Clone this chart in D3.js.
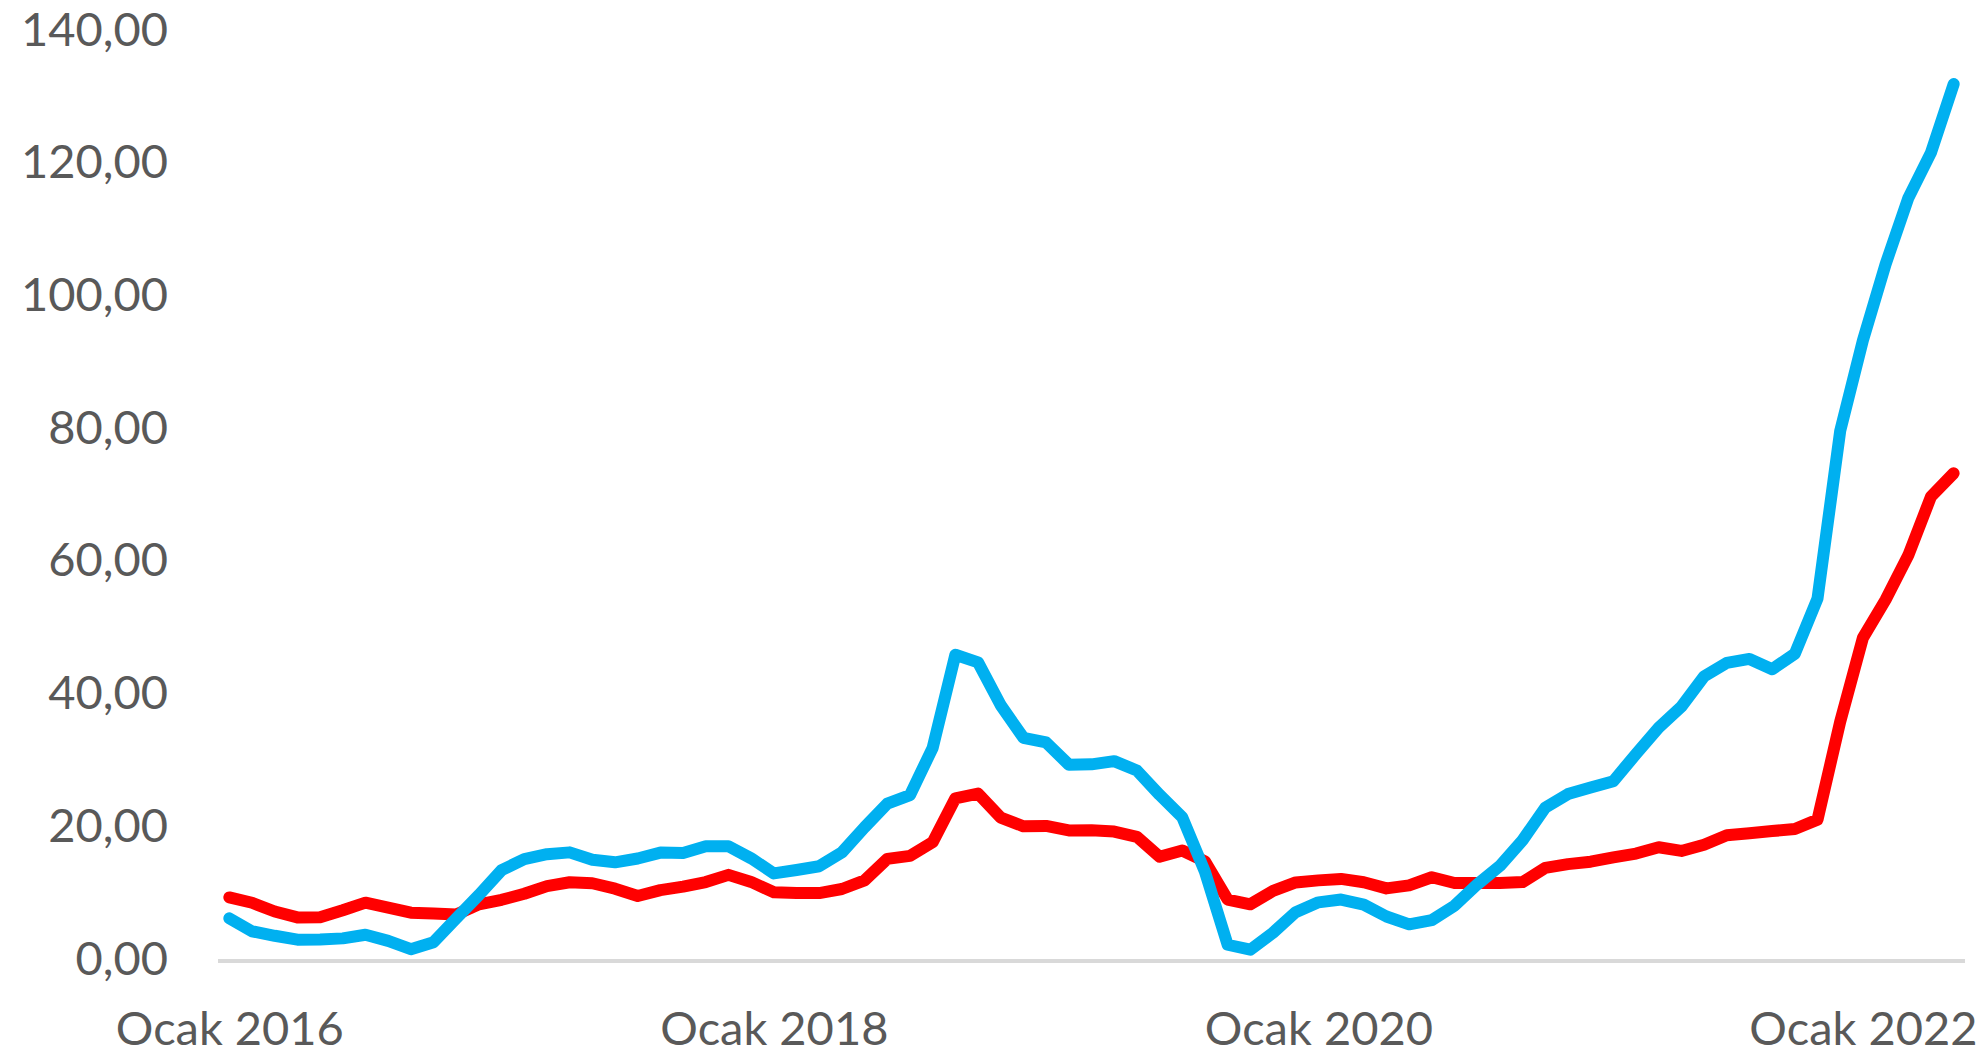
<!DOCTYPE html>
<html>
<head>
<meta charset="utf-8">
<script src="https://cdn.jsdelivr.net/npm/d3@7"></script>
<style>
  html, body { margin: 0; padding: 0; background: #fff; }
  #chart text { font-family: Lato, "Open Sans", sans-serif; fill: #595959; }
</style>
</head>
<body>
<div id="chart"></div>
<script>
// monthly categories: Ocak 2016 .. Mayıs 2022
var months = d3.timeMonth.range(new Date(2016, 0, 1), new Date(2022, 5, 1));

// red series (annual %, consumer prices)
var redValues = [
  9.58, 8.78, 7.46, 6.57, 6.58, 7.64, 8.79, 8.05, 7.28, 7.16, 7.00, 8.53,
  9.22, 10.13, 11.29, 11.87, 11.72, 10.90, 9.79, 10.68, 11.20, 11.90, 12.98, 11.92,
  10.35, 10.26, 10.23, 10.85, 12.15, 15.39, 15.85, 17.90, 24.52, 25.24, 21.62, 20.30,
  20.35, 19.67, 19.71, 19.50, 18.71, 15.72, 16.65, 15.01, 9.26, 8.55, 10.56, 11.84,
  12.15, 12.37, 11.86, 10.94, 11.39, 12.62, 11.76, 11.77, 11.75, 11.89, 14.03, 14.60,
  14.97, 15.61, 16.19, 17.14, 16.59, 17.53, 18.95, 19.25, 19.58, 19.89, 21.31, 36.08,
  48.69, 54.44, 61.14, 69.97, 73.50
];

// blue series (annual %, producer prices)
var blueValues = [
  6.43, 4.47, 3.80, 3.21, 3.25, 3.41, 3.96, 3.03, 1.78, 2.84, 6.41, 9.94,
  13.69, 15.36, 16.09, 16.37, 15.26, 14.87, 15.45, 16.34, 16.28, 17.28, 17.30, 15.47,
  13.20, 13.71, 14.28, 16.37, 20.16, 23.71, 25.00, 32.13, 46.15, 45.01, 38.54, 33.64,
  32.93, 29.59, 29.64, 30.12, 28.71, 25.04, 21.66, 13.45, 2.45, 1.70, 4.26, 7.36,
  8.84, 9.26, 8.50, 6.71, 5.53, 6.17, 8.33, 11.53, 14.33, 18.20, 23.11, 25.15,
  26.16, 27.09, 31.20, 35.17, 38.33, 42.89, 44.92, 45.52, 43.96, 46.31, 54.62, 79.89,
  93.53, 105.01, 114.97, 121.82, 132.16
];

var yTicks = [0, 20, 40, 60, 80, 100, 120, 140];
var xTickLabels = ["Ocak 2016", "Ocak 2018", "Ocak 2020", "Ocak 2022"];
var xTickIndex = [0, 24, 48, 72];

var width = 1986,
    height = 1059,
    plotLeft = 218,
    plotRight = 1965,
    plotTop = 32,
    plotBottom = 961;

var trLocale = d3.formatLocale({decimal: ",", thousands: ".", grouping: [3], currency: ["", " ₺"]});
var fmt = trLocale.format(".2f");

var svg = d3.select("#chart")
            .append("svg")
            .attr("width", width)
            .attr("height", height);

var x = d3.scalePoint()
          .domain(d3.range(months.length))
          .range([plotLeft, plotRight])
          .padding(0.5);

var y = d3.scaleLinear()
          .domain([0, 140])
          .range([plotBottom, plotTop]);

// y axis labels (no axis line, only the baseline is drawn)
var yAxis = d3.axisLeft(y)
              .tickValues(yTicks)
              .tickFormat(fmt)
              .tickSize(0)
              .tickPadding(0);

var yG = svg.append("g")
            .attr("transform", "translate(168,0)")
            .call(yAxis);
yG.select(".domain").remove();
yG.selectAll("text")
  .attr("dy", null)
  .attr("y", 13)
  .style("font-size", "47px");

// baseline
svg.append("line")
   .attr("x1", plotLeft)
   .attr("x2", plotRight)
   .attr("y1", y(0))
   .attr("y2", y(0))
   .style("stroke", "#d9d9d9")
   .style("stroke-width", 4);

// x axis labels
var xAxis = d3.axisBottom(x)
              .tickValues(xTickIndex)
              .tickFormat((d, i) => xTickLabels[i])
              .tickSize(0)
              .tickPadding(0);

var xG = svg.append("g")
            .attr("transform", `translate(0,${plotBottom})`)
            .call(xAxis);
xG.select(".domain").remove();
xG.selectAll("text")
  .attr("dy", null)
  .attr("y", 84)
  .style("font-size", "47px");

var line = d3.line()
             .x((d, i) => x(i))
             .y((d) => y(d));

svg.append("path")
   .datum(redValues)
   .attr("d", line)
   .style("fill", "none")
   .style("stroke", "#ff0000")
   .style("stroke-width", 12)
   .style("stroke-linejoin", "round")
   .style("stroke-linecap", "round");

svg.append("path")
   .datum(blueValues)
   .attr("d", line)
   .style("fill", "none")
   .style("stroke", "#00b0f0")
   .style("stroke-width", 12)
   .style("stroke-linejoin", "round")
   .style("stroke-linecap", "round");
</script>
</body>
</html>
